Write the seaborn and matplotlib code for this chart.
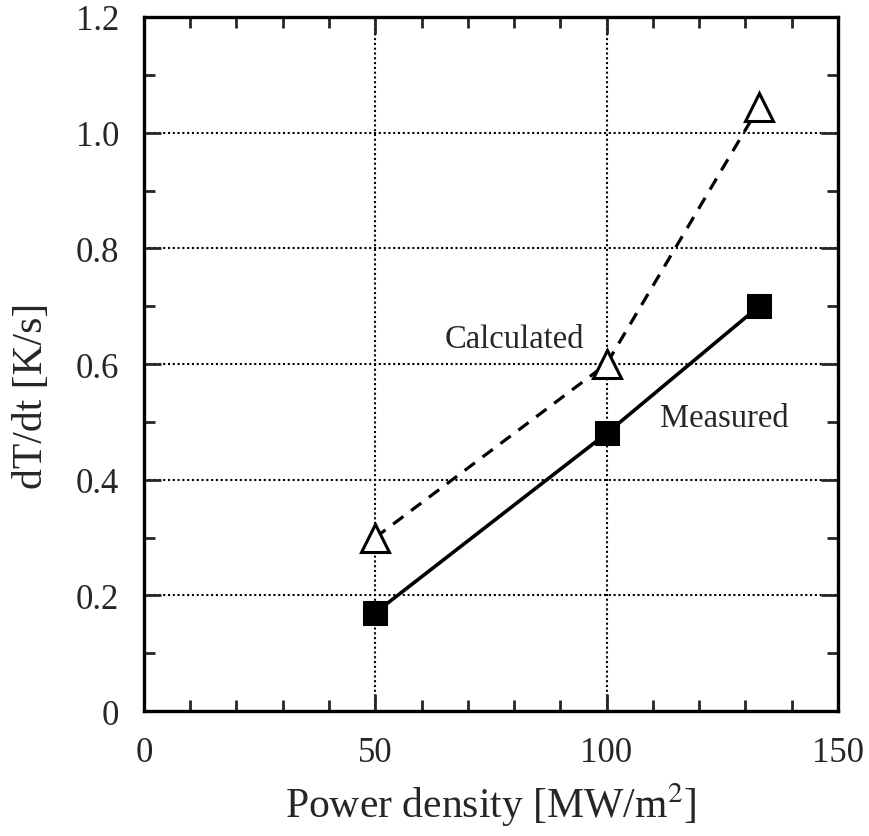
import matplotlib
matplotlib.use("Agg")
import matplotlib.pyplot as plt
import seaborn as sns
import pandas as pd
from matplotlib.ticker import MultipleLocator

power_density = [50, 100, 133]
measured = [0.17, 0.48, 0.70]
calculated = [0.30, 0.60, 1.045]

x_ticks = [0, 50, 100, 150]
y_ticks = [0, 0.2, 0.4, 0.6, 0.8, 1.0, 1.2]
y_tick_labels = ["0", "0.2", "0.4", "0.6", "0.8", "1.0", "1.2"]

sns.set_style("ticks")
plt.rcParams['font.family'] = ['Liberation Serif', 'DejaVu Serif']
plt.rcParams['mathtext.fontset'] = 'stix'

df_m = pd.DataFrame({"x": power_density, "y": measured})
df_c = pd.DataFrame({"x": power_density, "y": calculated})

fig = plt.figure(figsize=(8.7, 8.37), dpi=100)
ax = fig.add_axes([0.1655, 0.1493, 0.7975, 0.8292])

ax.set_xlim(0, 150)
ax.set_ylim(0, 1.2)
ax.set_xticks(x_ticks)
ax.set_yticks(y_ticks)
ax.set_yticklabels(y_tick_labels)
ax.xaxis.set_minor_locator(MultipleLocator(10))
ax.yaxis.set_minor_locator(MultipleLocator(0.1))
ax.grid(True, which="major", color="black", linestyle=(0, (1, 1.3)), linewidth=1.5)
ax.set_axisbelow(True)

sns.lineplot(data=df_c, x="x", y="y", ax=ax, color="black", linewidth=2.3,
             linestyle=(0, (4, 3)), marker="^", markersize=20,
             markerfacecolor="white", markeredgecolor="black", markeredgewidth=2.2,
             zorder=3)
sns.lineplot(data=df_m, x="x", y="y", ax=ax, color="black", linewidth=2.6,
             marker="s", markersize=17.5, markerfacecolor="black",
             markeredgecolor="black", zorder=4)

ax.text(65, 0.630, "Calculated", fontsize=23.5, ha="left", va="baseline")
ax.text(111.5, 0.493, "Measured", fontsize=23.5, ha="left", va="baseline")

ax.tick_params(which="both", direction="in", top=True, right=True,
               labelsize=25, width=2, pad=18)
ax.tick_params(which="major", length=12)
ax.tick_params(which="minor", length=8)
for s in ax.spines.values():
    s.set_linewidth(2.4)
    s.set_color("black")

ax.set_xlabel("Power density [MW/m$^2$]", fontsize=30, labelpad=8)
ax.set_ylabel("dT/dt [K/s]", fontsize=30)
ax.yaxis.set_label_coords(-0.134, 0.455)

fig.savefig("out.png", dpi=100)
